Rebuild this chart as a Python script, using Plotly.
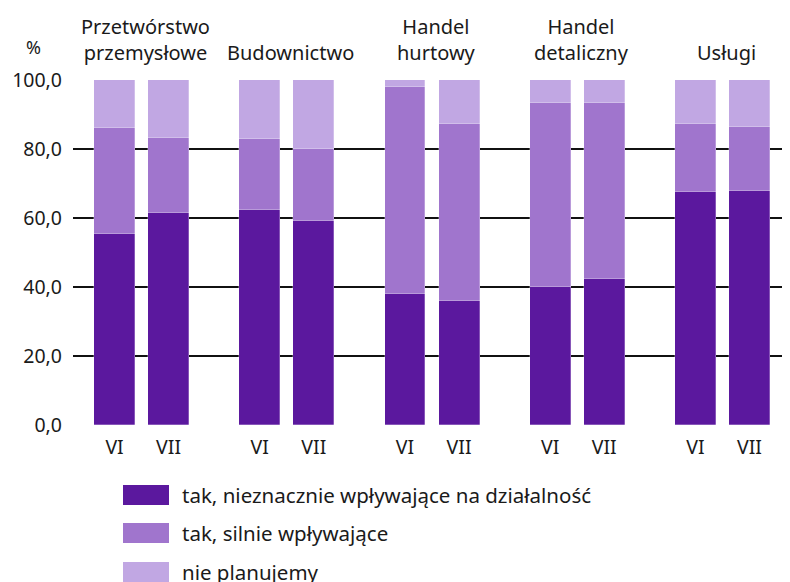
import plotly.graph_objects as go

# ---- data ----
categories = ["Przetwórstwo<br>przemysłowe", "Budownictwo", "Handel<br>hurtowy", "Handel<br>detaliczny", "Usługi"]
periods = ["VI", "VII"]
series_names = ["tak, nieznacznie wpływające na działalność", "tak, silnie wpływające", "nie planujemy"]
# values per bar in order: cat0 VI, cat0 VII, cat1 VI, ...
tak_nieznacznie = [55.5, 61.4, 62.4, 59.2, 38.1, 36.0, 39.9, 42.4, 67.6, 67.9]
tak_silnie =      [30.5, 21.7, 20.6, 20.7, 59.9, 51.3, 53.5, 51.0, 19.6, 18.5]
nie_planujemy =   [14.0, 16.9, 17.0, 20.1,  2.0, 12.7,  6.6,  6.6, 12.8, 13.6]
y_ticks = [0, 20, 40, 60, 80, 100]
y_tick_labels = ["0,0", "20,0", "40,0", "60,0", "80,0", "100,0"]

colors = ["#5B189E", "#A075CD", "#C1A7E3"]
FONT = "Noto Sans"
TXT = "#1a1a1a"

# layout geometry (pixels); page body adds an 8px offset
OFF = 8
W, H = 790 - OFF, 582 - OFF
ML, MR, MT = 73 - OFF, 0, 80 - OFF
MB = H - (425 - OFF)
PW, PH = W - ML - MR, H - MT - MB

def px_x(px):
    return (px - OFF - ML) / PW

def px_y(py):
    return (H - MB - (py - OFF)) / PH

offset = 0.186
bar_w = 0.282
xpos = []
for i in range(len(categories)):
    xpos += [i - offset, i + offset]
xlabels = periods * len(categories)

fig = go.Figure()
for name, vals, col in zip(series_names, [tak_nieznacznie, tak_silnie, nie_planujemy], colors):
    fig.add_trace(go.Bar(
        x=xpos, y=vals, name=name, width=bar_w,
        marker=dict(color=col, line=dict(width=0.6, color="rgba(255,255,255,0.45)")),
        showlegend=False,
    ))

annotations = []
for i, c in enumerate(categories):
    annotations.append(dict(x=i, y=1, xref="x", yref="paper", text=c, showarrow=False,
                            xanchor="center", yanchor="bottom", yshift=12, xshift=4,
                            font=dict(family=FONT, size=20, color=TXT)))
annotations.append(dict(x=px_x(33), y=1, xref="paper", yref="paper", text="%", showarrow=False,
                        xanchor="center", yanchor="middle", yshift=33,
                        font=dict(family=FONT, size=18, color=TXT)))

shapes = []
legend_rows = [495, 533, 572]
for name, col, cy in zip(series_names, colors, legend_rows):
    shapes.append(dict(type="rect", xref="paper", yref="paper",
                       x0=px_x(123), x1=px_x(169), y0=px_y(cy - 10), y1=px_y(cy + 10),
                       fillcolor=col, line=dict(width=0)))
    annotations.append(dict(x=px_x(180), y=px_y(cy), xref="paper", yref="paper", text=name,
                            showarrow=False, xanchor="left", yanchor="middle",
                            font=dict(family=FONT, size=20.5, color=TXT)))

fig.update_layout(
    width=W, height=H,
    margin=dict(l=ML, r=MR, t=MT, b=MB),
    plot_bgcolor="white", paper_bgcolor="white",
    barmode="stack", bargap=0,
    font=dict(family=FONT, size=19, color=TXT),
    annotations=annotations, shapes=shapes,
    xaxis=dict(range=[-0.472, 4.465], tickvals=xpos, ticktext=xlabels, showgrid=False,
               zeroline=False, showline=False, ticks="", ticklabelstandoff=8,
               tickfont=dict(family=FONT, size=19.5, color=TXT), fixedrange=True),
    yaxis=dict(range=[0, 100], tickvals=y_ticks, ticktext=y_tick_labels, showgrid=True,
               gridcolor="#111111", gridwidth=2, zeroline=False, showline=False, ticks="",
               ticklabelstandoff=10, tickfont=dict(family=FONT, size=19.5, color=TXT), fixedrange=True),
)

fig.write_html("out.html")
